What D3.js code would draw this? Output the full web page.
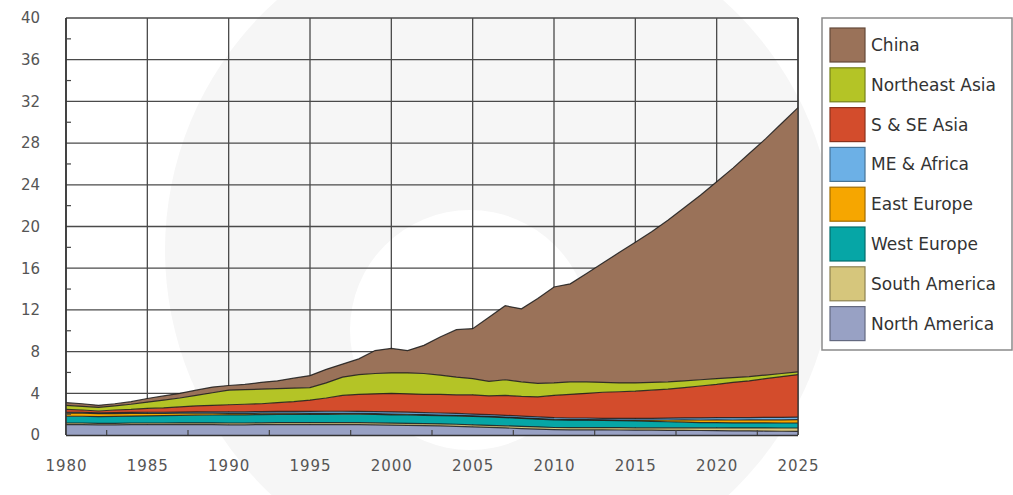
<!DOCTYPE html>
<html>
<head>
<meta charset="utf-8">
<script src="https://cdn.jsdelivr.net/npm/d3@7"></script>
<style>
  html, body { margin: 0; padding: 0; background: #fff; }
  svg { display: block; }
  text { font-family: "DejaVu Sans", sans-serif; }
</style>
</head>
<body>
<svg id="chart" width="1013" height="495"></svg>
<script>
// ---- data ----
const years = d3.range(1980, 2026);

const northAmerica = [1.0,1.0,0.98,0.98,1.0,1.0,1.0,1.0,1.0,1.0, 0.98,0.98,1.0,1.0,1.0,1.0,1.0,1.0,1.0,0.98, 0.95,0.93,0.9,0.87,0.83,0.78,0.73,0.68,0.62,0.57, 0.52,0.5,0.5,0.49,0.48,0.47,0.46,0.45,0.44,0.43, 0.42,0.4,0.39,0.38,0.36,0.35];
const southAmerica = [0.15,0.15,0.14,0.14,0.15,0.15,0.15,0.16,0.16,0.16, 0.17,0.17,0.17,0.18,0.18,0.18,0.18,0.19,0.19,0.19, 0.19,0.19,0.19,0.19,0.2,0.2,0.2,0.2,0.2,0.2, 0.2,0.2,0.21,0.21,0.22,0.22,0.23,0.24,0.25,0.26, 0.27,0.28,0.29,0.3,0.31,0.32];
const westEurope = [0.65,0.65,0.65,0.66,0.67,0.68,0.7,0.72,0.74,0.76, 0.78,0.78,0.79,0.79,0.8,0.8,0.8,0.8,0.8,0.8, 0.8,0.8,0.8,0.8,0.8,0.8,0.8,0.79,0.78,0.76, 0.74,0.73,0.72,0.7,0.68,0.66,0.62,0.58,0.54,0.5, 0.49,0.48,0.48,0.48,0.48,0.48];
const eastEurope = [0.3,0.3,0.28,0.27,0.26,0.25,0.23,0.21,0.19,0.17, 0.15,0.14,0.13,0.12,0.11,0.1,0.1,0.09,0.08,0.08, 0.07,0.07,0.06,0.06,0.06,0.05,0.05,0.05,0.05,0.05, 0.05,0.05,0.05,0.05,0.06,0.08,0.12,0.17,0.22,0.25, 0.27,0.28,0.29,0.3,0.31,0.32];
const meAfrica = [0.08,0.08,0.08,0.09,0.09,0.1,0.1,0.11,0.12,0.13, 0.14,0.15,0.16,0.17,0.18,0.19,0.2,0.2,0.2,0.2, 0.2,0.2,0.2,0.19,0.19,0.18,0.17,0.17,0.16,0.16, 0.15,0.15,0.15,0.15,0.16,0.16,0.17,0.18,0.19,0.2, 0.21,0.22,0.22,0.23,0.24,0.25];
const sSeAsia = [0.27,0.22,0.17,0.26,0.28,0.37,0.42,0.5,0.59,0.63, 0.68,0.73,0.75,0.84,0.93,1.08,1.27,1.52,1.63,1.7, 1.79,1.76,1.75,1.79,1.77,1.84,1.8,1.91,1.89,1.91, 2.14,2.27,2.37,2.5,2.55,2.61,2.7,2.78,2.91,3.06, 3.19,3.39,3.53,3.71,3.9,4.08];
const northeastAsia = [0.4,0.35,0.35,0.4,0.5,0.6,0.75,0.85,1.0,1.2, 1.4,1.4,1.4,1.35,1.3,1.2,1.45,1.75,1.9,1.95, 1.95,2.0,2.0,1.85,1.7,1.55,1.4,1.5,1.4,1.3, 1.2,1.2,1.1,0.95,0.85,0.8,0.75,0.7,0.65,0.6, 0.55,0.45,0.4,0.35,0.3,0.25];
const china = [0.25,0.25,0.2,0.2,0.25,0.35,0.4,0.45,0.5,0.55, 0.45,0.5,0.65,0.75,0.95,1.15,1.3,1.25,1.5,2.2, 2.35,2.15,2.7,3.65,4.55,4.8,6.15,7.1,7.0,8.15, 9.2,9.4,10.4,11.45,12.5,13.5,14.45,15.5,16.6,17.7, 18.9,20.1,21.4,22.65,24.0,25.35];

// stack order: bottom -> top
const seriesNames = ["North America","South America","West Europe","East Europe","ME & Africa","S & SE Asia","Northeast Asia","China"];
const seriesValues = [northAmerica, southAmerica, westEurope, eastEurope, meAfrica, sSeAsia, northeastAsia, china];
const seriesColors = ["#98a1c4","#d6c67c","#06a6a6","#f6a600","#6cb0e6","#d34c2c","#b4c426","#9a7259"];

const yTicks = d3.range(0, 41, 4);
const yMinor = d3.range(2, 40, 4);
const xTicks = d3.range(1980, 2026, 5);
const xMinor = d3.range(1982.5, 2025, 5);

// ---- chart ----
const svg = d3.select("#chart");
const x = d3.scaleLinear().domain([1980, 2025]).range([66, 798]);
const y = d3.scaleLinear().domain([0, 40]).range([435, 18]);

// faint watermark behind
const wm = svg.append("g");
wm.append("circle").attr("cx", 500).attr("cy", 250).attr("r", 335).attr("fill", "#f6f6f6");
wm.append("circle").attr("cx", 470).attr("cy", 330).attr("r", 120).attr("fill", "#ffffff");

const table = years.map((yr, i) => {
  const row = { year: yr };
  seriesNames.forEach((n, k) => row[n] = seriesValues[k][i]);
  return row;
});
const stacked = d3.stack().keys(seriesNames)(table);

// grid
const grid = svg.append("g");
grid.selectAll("line.h").data(yTicks).join("line")
  .attr("x1", x(1980)).attr("x2", x(2025))
  .attr("y1", d => y(d)).attr("y2", d => y(d))
  .attr("stroke", "#4a4a4a").attr("stroke-width", 1.3);
grid.selectAll("line.v").data(xTicks).join("line")
  .attr("y1", y(0)).attr("y2", y(40))
  .attr("x1", d => x(d)).attr("x2", d => x(d))
  .attr("stroke", "#4a4a4a").attr("stroke-width", 1.3);

// areas
const area = d3.area()
  .x(d => x(d.data.year))
  .y0(d => y(d[0]))
  .y1(d => y(d[1]));
const topLine = d3.line()
  .x(d => x(d.data.year))
  .y(d => y(d[1]));

svg.append("g").selectAll("path").data(stacked).join("path")
  .attr("d", area)
  .attr("fill", (d, i) => seriesColors[i]);
svg.append("g").selectAll("path").data(stacked).join("path")
  .attr("d", topLine)
  .attr("fill", "none")
  .attr("stroke", "#1a1a1a")
  .attr("stroke-width", 1.2)
  .attr("stroke-opacity", 0.85);

// axes frame
svg.append("line").attr("x1", x(1980)).attr("x2", x(1980)).attr("y1", y(0)).attr("y2", y(40))
  .attr("stroke", "#333").attr("stroke-width", 1.6);
svg.append("line").attr("x1", x(1980)).attr("x2", x(2025)).attr("y1", y(0) + 0.5).attr("y2", y(0) + 0.5)
  .attr("stroke", "#333").attr("stroke-width", 1.6);
svg.append("line").attr("x1", x(2025)).attr("x2", x(2025)).attr("y1", y(0)).attr("y2", y(40))
  .attr("stroke", "#333").attr("stroke-width", 1.3);

// minor ticks
svg.append("g").selectAll("line").data(yMinor).join("line")
  .attr("x1", x(1980)).attr("x2", x(1980) + 5)
  .attr("y1", d => y(d)).attr("y2", d => y(d))
  .attr("stroke", "#444").attr("stroke-width", 1.2);
svg.append("g").selectAll("line").data(xMinor).join("line")
  .attr("x1", d => x(d)).attr("x2", d => x(d))
  .attr("y1", y(0)).attr("y2", y(0) - 5)
  .attr("stroke", "#444").attr("stroke-width", 1.2);

// y axis labels
const yAxis = d3.axisLeft(y).tickValues(yTicks).tickSize(0).tickPadding(26).tickFormat(d3.format("d"));
const gy = svg.append("g").attr("transform", `translate(${x(1980)},0)`).call(yAxis);
gy.select(".domain").remove();
gy.selectAll("text").attr("fill", "#555").style("font-size", "15px");

// x axis labels
const xAxis = d3.axisBottom(x).tickValues(xTicks).tickSize(0).tickPadding(25).tickFormat(d3.format("d"));
const gx = svg.append("g").attr("transform", `translate(0,${y(0)})`).call(xAxis);
gx.select(".domain").remove();
gx.selectAll("text").attr("fill", "#555").style("font-size", "15px").style("letter-spacing", "1px");

// legend
const lg = svg.append("g");
lg.append("rect").attr("x", 822).attr("y", 18).attr("width", 190).attr("height", 332)
  .attr("fill", "#fff").attr("stroke", "#8a8a8a").attr("stroke-width", 1.5);
const legendItems = seriesNames.map((n, i) => ({ name: n, color: seriesColors[i] })).reverse();
const li = lg.selectAll("g.item").data(legendItems).join("g")
  .attr("transform", (d, i) => `translate(830, ${28 + i * 39.8})`);
li.append("rect").attr("width", 35).attr("height", 34)
  .attr("fill", d => d.color)
  .attr("stroke", d => d3.color(d.color).darker(1.2)).attr("stroke-width", 1.2);
li.append("text").attr("x", 41).attr("y", 17).attr("dy", "0.35em")
  .attr("fill", "#333").style("font-size", "17px")
  .text(d => d.name);
</script>
</body>
</html>
